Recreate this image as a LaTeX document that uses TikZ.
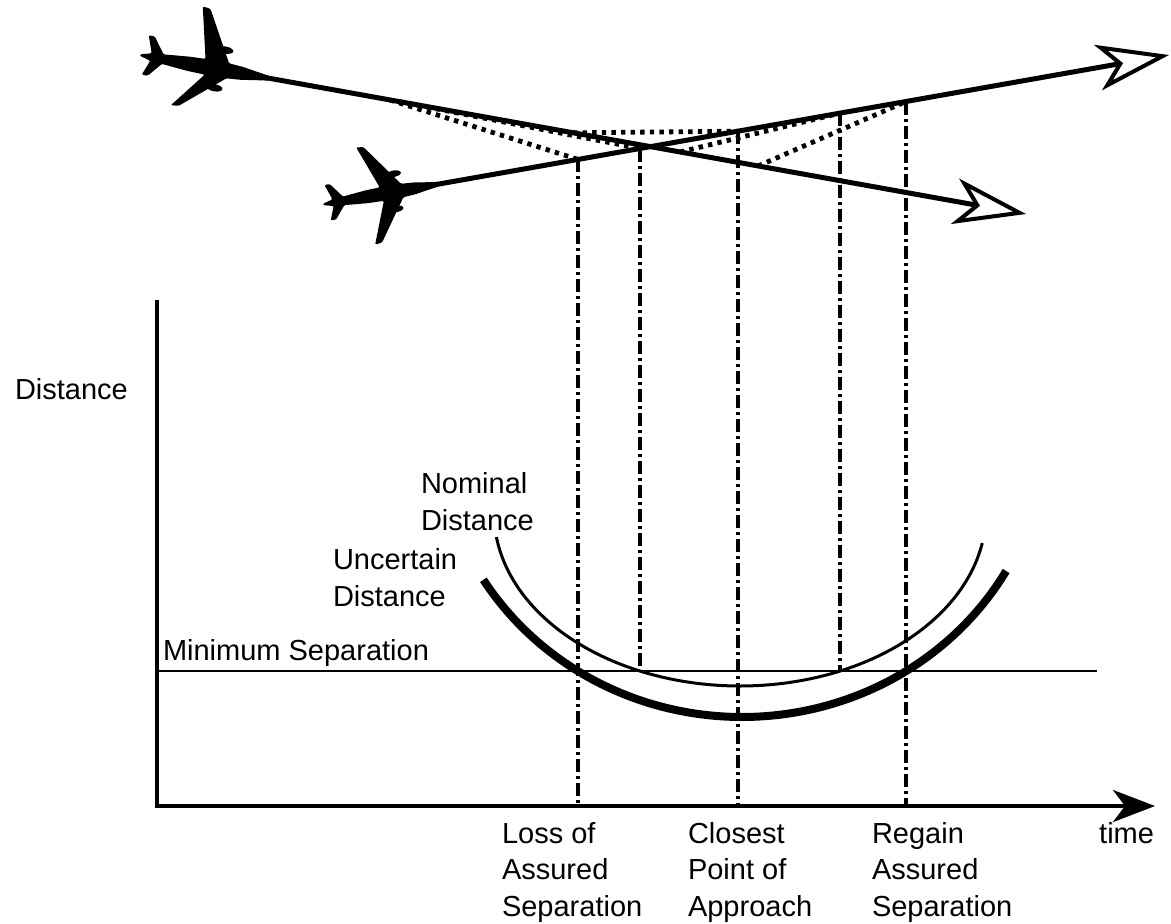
\documentclass[tikz,border=0pt]{standalone}
\usepackage{fontspec}
\setmainfont{Liberation Sans}
\usetikzlibrary{arrows.meta}
% airliner silhouette, nose along +x; #1,#2 upper wing tip, #3,#4 lower wing tip
\newcommand{\airliner}[4]{%
  \fill[rounded corners=0.6pt] (58,-2.4) -- (44,-4.4) -- (30,-6.6) -- (16,-7.6)
    -- ({#1+4},{#2}) -- ({#1-4},{#2-1}) -- (-8,-7.8) -- (-24,-7.2) -- (-42,-5.6)
    -- (-50,-4.8) -- (-62,-21) -- (-68,-21) -- (-62,-3.8) -- (-67,-2.4)
    -- (-73,-0.9) -- (-73,0.9) -- (-67,2.4) -- (-62,3.8) -- (-68,19) -- (-62,19)
    -- (-50,4.8) -- (-42,5.6) -- (-24,7.2) -- (-6,7.8) -- ({#3-4},{#4+1}) -- ({#3+4},{#4})
    -- (16,7.6) -- (30,6.6) -- (44,4.4) -- (58,2.4) -- cycle;
  \fill (10,-20) ellipse [x radius=8, y radius=3.6];
  \fill (6,19) ellipse [x radius=8, y radius=3.6];
}
\begin{document}
\begin{tikzpicture}[x=0.5pt,y=-0.5pt,
  lab/.style={inner sep=0pt, outer sep=0pt, align=left, anchor=base west,
    font=\fontsize{14.5pt}{18.25pt}\selectfont},
  track/.style={line width=2.5pt,
    -{Stealth[fill=white, length=36pt, width=23pt, inset=10pt, line width=2pt]}},
  proj/.style={line width=2.4pt, dash pattern=on 2.2pt off 2.6pt},
  timeline/.style={line width=2pt, dash pattern=on 6.5pt off 2pt on 1.5pt off 2pt},
  axisline/.style={line width=2pt, line join=miter,
    -{Stealth[length=21pt, width=16pt, inset=6pt]}},
  minsep/.style={line width=1pt},
  nomcurve/.style={line width=1.5pt},
  unccurve/.style={line width=4pt},
]
\useasboundingbox (0,0) rectangle (1171,923);

% ---- key points
\coordinate (a1) at (212,68);     % aircraft 1
\coordinate (a2) at (388,193);    % aircraft 2
\coordinate (t1) at (1026,214);   % track 1 end
\coordinate (t2) at (1169,55);    % track 2 end

% points on track 1 and track 2
\coordinate (p1a) at (390,100);
\coordinate (p1b) at (398,101.4);
\coordinate (p1c) at (573,132.8);
\coordinate (p1d) at (680,152);
\coordinate (p1e) at (758,166);
\coordinate (q1) at (578,159.4);
\coordinate (q2) at (640,148.5);
\coordinate (q3) at (738,131.2);
\coordinate (q4) at (840,113.1);
\coordinate (q5) at (906,101.5);

% ---- projection (dotted) lines
\draw[proj] (p1a) -- (q1);
\draw[proj] (p1b) -- (q2);
\draw[proj] (p1c) -- (q3);
\draw[proj] (p1d) -- (q4);
\draw[proj] (p1e) -- (q5);

% ---- tracks
\draw[track] (a1) -- (t1);
\draw[track] (a2) -- (t2);

% ---- aircraft
\begin{scope}[shift={(a1)}, rotate=-10.2]
  \airliner{-16}{-58}{-30}{43}
\end{scope}
\begin{scope}[shift={(a2)}, rotate=10, scale=0.9]
  \airliner{-22}{-55}{-20}{53}
\end{scope}

% ---- axes
\coordinate (ytop) at (157,300);
\coordinate (O) at (157,806);
\coordinate (xend) at (1155,806);
\draw[axisline] (ytop) -- (O) -- (xend);

% minimum separation
\coordinate (ms1) at (157,671);
\coordinate (ms2) at (1097,671);
\draw[minsep] (ms1) -- (ms2);

% distance curves
\draw[nomcurve] plot[domain=172:10, samples=90] ({740+246*cos(\x)},{513+173*sin(\x)});
\draw[unccurve] plot[domain=148:30, samples=90] ({742+305*cos(\x)},{425+292*sin(\x)});

% ---- time lines
\coordinate (b1) at (578,806);
\coordinate (b2) at (640,671);
\coordinate (b3) at (738,806);
\coordinate (b4) at (840,671);
\coordinate (b5) at (906,806);
\draw[timeline] (q1) -- (b1);
\draw[timeline] (q2) -- (b2);
\draw[timeline] (q3) -- (b3);
\draw[timeline] (q4) -- (b4);
\draw[timeline] (q5) -- (b5);

% ---- labels (base anchor = baseline of last line)
\node[lab] (ylab) at (15,399) {Distance};
\node[lab] (nomlab) at (421,530) {Nominal\\Distance};
\node[lab] (unclab) at (333,606) {Uncertain\\Distance};
\node[lab] (minlab) at (163,660) {Minimum Separation};
\node[lab] (los) at (502,916) {Loss of\\Assured\\Separation};
\node[lab] (cpa) at (688,916) {Closest\\Point of\\Approach};
\node[lab] (ras) at (872,916) {Regain\\Assured\\Separation};
\node[lab, anchor=base east] (tlab) at (1154,843) {time};
\end{tikzpicture}
\end{document}
